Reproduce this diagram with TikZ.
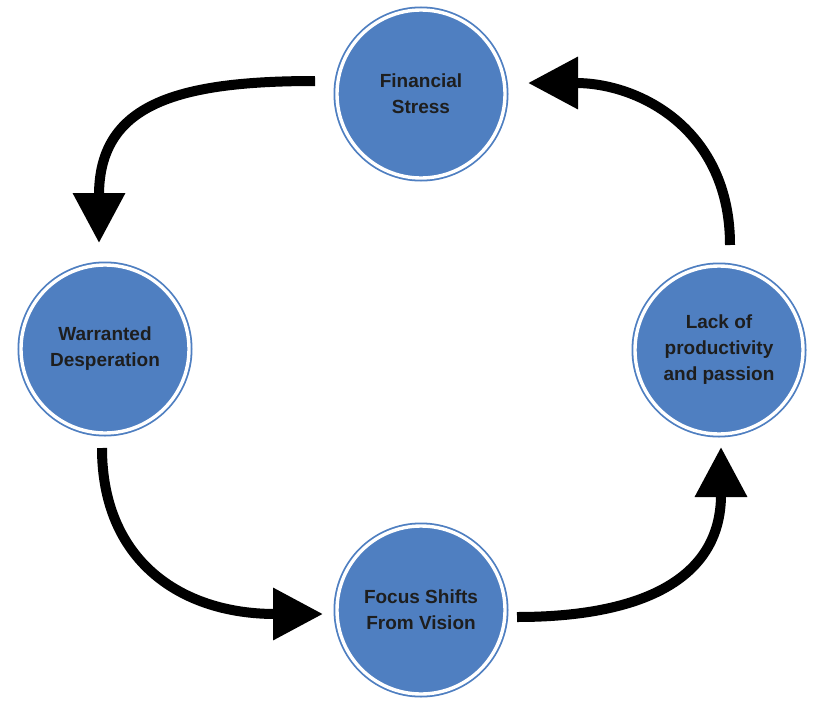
\documentclass[tikz,border=0pt]{standalone}
\usepackage{fontspec}
\setmainfont{Liberation Sans}
\usetikzlibrary{arrows.meta}
\definecolor{cblue}{HTML}{4F7FC1}
\definecolor{ctext}{HTML}{1E1E1E}
\begin{document}
\begin{tikzpicture}[x=1pt,y=-1pt,
  stage/.style={circle, minimum size=168pt, inner sep=0pt, fill=cblue, draw=cblue,
    line width=1.8pt, double=white, double distance=3.4pt, align=center,
    font=\fontsize{19}{26}\selectfont\bfseries, text=ctext},
  flow/.style={line width=10pt, -{Triangle[length=50pt,width=50pt]}}]
\useasboundingbox[fill=white] (0,0) rectangle (840,704);

\node[stage] (fs) at (421,94) {Financial\\Stress};
\node[stage] (wd) at (105,349) {Warranted\\Desperation};
\node[stage] (lp) at (719,350) {Lack of\\productivity\\and passion};
\node[stage] (fv) at (421,610) {Focus Shifts\\From Vision};

\coordinate (fsout) at (315,81);
\coordinate (wdin)  at (99,243);
\coordinate (wdout) at (102,448);
\coordinate (fvin)  at (323,614);
\coordinate (fvout) at (517,617);
\coordinate (lpin)  at (721,447);
\coordinate (lpout) at (730,245);
\coordinate (fsin)  at (528,83);

\draw[flow] (fsout) .. controls (175,81) and (99,105) .. (wdin);
\draw[flow] (wdout) .. controls (102,560) and (180,614) .. (fvin);
\draw[flow] (fvout) .. controls (640,617) and (721,580) .. (lpin);
\draw[flow] (lpout) .. controls (730,130) and (640,83) .. (fsin);
\end{tikzpicture}
\end{document}
